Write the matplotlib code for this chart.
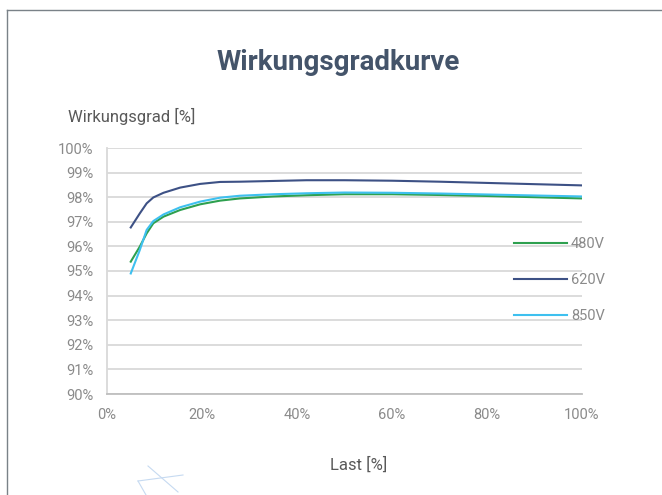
import numpy as np
import matplotlib
matplotlib.use('Agg')
import matplotlib.pyplot as plt
from matplotlib.lines import Line2D
from matplotlib.ticker import PercentFormatter

# Last in %, Wirkungsgrad in %
last = [5, 6.9, 8.35, 9.75, 11.9, 15.4, 19.6, 23.8, 28, 35, 42, 50, 60, 70, 80, 90, 100]
eta_480 = [95.38, 95.99, 96.53, 96.94, 97.21, 97.48, 97.71, 97.86, 97.95, 98.03, 98.08, 98.12, 98.12, 98.09, 98.05, 98.00, 97.95]
eta_620 = [96.77, 97.34, 97.75, 97.99, 98.18, 98.39, 98.54, 98.62, 98.63, 98.66, 98.69, 98.69, 98.67, 98.63, 98.58, 98.53, 98.48]
eta_850 = [94.90, 95.85, 96.67, 97.03, 97.30, 97.59, 97.82, 97.98, 98.06, 98.12, 98.16, 98.19, 98.18, 98.15, 98.11, 98.07, 98.03]

serien = [('480V', eta_480, '#2ea04f'),
          ('620V', eta_620, '#3d5185'),
          ('850V', eta_850, '#3ec0ef')]

plt.rcParams['font.family'] = ['Roboto', 'DejaVu Sans']

fig = plt.figure(figsize=(6.62, 4.95), dpi=100)
ax = fig.add_axes([107 / 662, 1 - 394 / 495, 475 / 662, 246 / 495])

x = np.array(last) / 100
for name, werte, farbe in serien:
    ax.plot(x, np.array(werte) / 100, color=farbe, lw=1.5, label=name,
            solid_joinstyle='round')

ax.set_xlim(0, 1)
ax.set_ylim(0.90, 1.00)
ax.set_xticks(np.arange(0, 1.01, 0.2))
ax.set_yticks(np.arange(0.90, 1.001, 0.01))
ax.xaxis.set_major_formatter(PercentFormatter(1.0, decimals=0))
ax.yaxis.set_major_formatter(PercentFormatter(1.0, decimals=0))
ax.tick_params(length=0, labelsize=10.5, labelcolor='#8a8a8a')
ax.tick_params(axis='y', pad=10)
ax.tick_params(axis='x', pad=10)
ax.grid(axis='y', color='#d9d9d9', lw=1.3)
ax.set_axisbelow(True)
for s in ['top', 'right']:
    ax.spines[s].set_visible(False)
ax.spines['left'].set_color('#d9d9d9')
ax.spines['bottom'].set_color('#bfbfbf')
ax.spines['left'].set_linewidth(1.3)
ax.spines['bottom'].set_linewidth(1.3)

leg = ax.legend(loc='center left', bbox_to_anchor=(0.857, 0.463), frameon=False,
                borderpad=0, borderaxespad=0, handlelength=3.6, handletextpad=0.3,
                labelspacing=1.5, fontsize=10.5, labelcolor='#8a8a8a')

fig.text(338 / 662, 1 - 62 / 495, 'Wirkungsgradkurve', ha='center', va='center',
         fontsize=20, fontweight='bold', color='#44546a')
fig.text(68 / 662, 1 - 116 / 495, 'Wirkungsgrad [%]', ha='left', va='center',
         fontsize=12, color='#595959')
fig.text(359 / 662, 1 - 465 / 495, 'Last [%]', ha='center', va='center',
         fontsize=12, color='#595959')

# Rahmen oben und links
fig.add_artist(Line2D([7 / 662, 7 / 662], [0, 1 - 10 / 495], color='#7a8288', lw=1))
fig.add_artist(Line2D([7 / 662, 1], [1 - 10 / 495, 1 - 10 / 495], color='#7a8288', lw=1))

# schwache Deko-Linien unten links
deko = '#c6daf1'
fig.add_artist(Line2D([148 / 662, 178 / 662], [1 - 466 / 495, 1 - 492 / 495], color=deko, lw=0.8))
fig.add_artist(Line2D([138 / 662, 183 / 662], [1 - 481 / 495, 1 - 475 / 495], color=deko, lw=0.8))
fig.add_artist(Line2D([138 / 662, 146 / 662], [1 - 481 / 495, 1 - 495 / 495], color=deko, lw=0.8))

fig.savefig('out.png', dpi=100)
